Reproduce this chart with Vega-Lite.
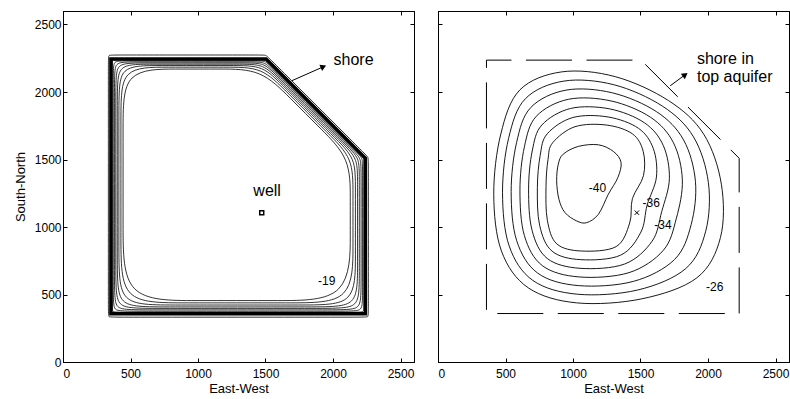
{
  "$schema": "https://vega.github.io/schema/vega-lite/v6.json",
  "padding": {"left": 13, "top": 10, "right": 0, "bottom": 0},
  "spacing": 22,
  "config": {
    "view": {"stroke": "black", "strokeWidth": 1},
    "axis": {"domainColor": "black", "tickColor": "black", "tickSize": -4, "labelPadding": 6, "labelFont": "Liberation Sans", "labelFontSize": 12, "labelColor": "black", "titleFont": "Liberation Sans", "titleFontSize": 13, "titleFontWeight": "normal", "titleColor": "black", "grid": false, "format": "d"},
    "axisX": {"labelPadding": 10, "titlePadding": 3},
    "axisY": {"titlePadding": 7},
    "text": {"font": "Liberation Sans", "color": "black"}
  },
  "datasets": {
    "leftContours": [
      {"c":0,"i":1,"x":336,"y":2244},{"c":0,"i":2,"x":336,"y":2274},{"c":0,"i":3,"x":366,"y":2274},{"c":0,"i":4,"x":1474,"y":2274},{"c":0,"i":5,"x":1504,"y":2274},{"c":0,"i":6,"x":1525,"y":2253},{"c":0,"i":7,"x":2241,"y":1537},{"c":0,"i":8,"x":2262,"y":1516},{"c":0,"i":9,"x":2262,"y":1486},{"c":0,"i":10,"x":2262,"y":362},{"c":0,"i":11,"x":2262,"y":332},{"c":0,"i":12,"x":2232,"y":332},{"c":0,"i":13,"x":366,"y":332},{"c":0,"i":14,"x":336,"y":332},{"c":0,"i":15,"x":336,"y":362},
      {"c":1,"i":1,"x":445,"y":1770},{"c":1,"i":2,"x":445,"y":2170},{"c":1,"i":3,"x":845,"y":2170},{"c":1,"i":4,"x":1167,"y":2170},{"c":1,"i":5,"x":1467,"y":2170},{"c":1,"i":6,"x":1679,"y":1958},{"c":1,"i":7,"x":1916,"y":1721},{"c":1,"i":8,"x":2128,"y":1509},{"c":1,"i":9,"x":2128,"y":1209},{"c":1,"i":10,"x":2128,"y":975},{"c":1,"i":11,"x":2128,"y":455},{"c":1,"i":12,"x":1608,"y":455},{"c":1,"i":13,"x":965,"y":455},{"c":1,"i":14,"x":445,"y":455},{"c":1,"i":15,"x":445,"y":975},
      {"c":2,"i":1,"x":429,"y":1856},{"c":2,"i":2,"x":429,"y":2184},{"c":2,"i":3,"x":757,"y":2184},{"c":2,"i":4,"x":1228,"y":2184},{"c":2,"i":5,"x":1474,"y":2184},{"c":2,"i":6,"x":1648,"y":2010},{"c":2,"i":7,"x":1974,"y":1683},{"c":2,"i":8,"x":2148,"y":1509},{"c":2,"i":9,"x":2148,"y":1263},{"c":2,"i":10,"x":2148,"y":864},{"c":2,"i":11,"x":2148,"y":438},{"c":2,"i":12,"x":1722,"y":438},{"c":2,"i":13,"x":855,"y":438},{"c":2,"i":14,"x":429,"y":438},{"c":2,"i":15,"x":429,"y":864},
      {"c":3,"i":1,"x":414,"y":1932},{"c":3,"i":2,"x":414,"y":2196},{"c":3,"i":3,"x":678,"y":2196},{"c":3,"i":4,"x":1282,"y":2196},{"c":3,"i":5,"x":1480,"y":2196},{"c":3,"i":6,"x":1620,"y":2056},{"c":3,"i":7,"x":2026,"y":1649},{"c":3,"i":8,"x":2166,"y":1509},{"c":3,"i":9,"x":2166,"y":1311},{"c":3,"i":10,"x":2166,"y":765},{"c":3,"i":11,"x":2166,"y":422},{"c":3,"i":12,"x":1823,"y":422},{"c":3,"i":13,"x":757,"y":422},{"c":3,"i":14,"x":414,"y":422},{"c":3,"i":15,"x":414,"y":765},
      {"c":4,"i":1,"x":402,"y":1998},{"c":4,"i":2,"x":402,"y":2206},{"c":4,"i":3,"x":610,"y":2206},{"c":4,"i":4,"x":1329,"y":2206},{"c":4,"i":5,"x":1485,"y":2206},{"c":4,"i":6,"x":1595,"y":2096},{"c":4,"i":7,"x":2072,"y":1619},{"c":4,"i":8,"x":2182,"y":1509},{"c":4,"i":9,"x":2182,"y":1353},{"c":4,"i":10,"x":2182,"y":678},{"c":4,"i":11,"x":2182,"y":408},{"c":4,"i":12,"x":1912,"y":408},{"c":4,"i":13,"x":672,"y":408},{"c":4,"i":14,"x":402,"y":408},{"c":4,"i":15,"x":402,"y":678},
      {"c":5,"i":1,"x":391,"y":2055},{"c":5,"i":2,"x":391,"y":2215},{"c":5,"i":3,"x":551,"y":2215},{"c":5,"i":4,"x":1370,"y":2215},{"c":5,"i":5,"x":1490,"y":2215},{"c":5,"i":6,"x":1575,"y":2130},{"c":5,"i":7,"x":2110,"y":1595},{"c":5,"i":8,"x":2195,"y":1510},{"c":5,"i":9,"x":2195,"y":1390},{"c":5,"i":10,"x":2195,"y":605},{"c":5,"i":11,"x":2195,"y":397},{"c":5,"i":12,"x":1987,"y":397},{"c":5,"i":13,"x":599,"y":397},{"c":5,"i":14,"x":391,"y":397},{"c":5,"i":15,"x":391,"y":605},
      {"c":6,"i":1,"x":381,"y":2107},{"c":6,"i":2,"x":381,"y":2223},{"c":6,"i":3,"x":497,"y":2223},{"c":6,"i":4,"x":1407,"y":2223},{"c":6,"i":5,"x":1494,"y":2223},{"c":6,"i":6,"x":1556,"y":2161},{"c":6,"i":7,"x":2146,"y":1571},{"c":6,"i":8,"x":2208,"y":1509},{"c":6,"i":9,"x":2208,"y":1422},{"c":6,"i":10,"x":2208,"y":537},{"c":6,"i":11,"x":2208,"y":386},{"c":6,"i":12,"x":2057,"y":386},{"c":6,"i":13,"x":532,"y":386},{"c":6,"i":14,"x":381,"y":386},{"c":6,"i":15,"x":381,"y":537},
      {"c":7,"i":1,"x":372,"y":2155},{"c":7,"i":2,"x":372,"y":2231},{"c":7,"i":3,"x":448,"y":2231},{"c":7,"i":4,"x":1441,"y":2231},{"c":7,"i":5,"x":1498,"y":2231},{"c":7,"i":6,"x":1538,"y":2191},{"c":7,"i":7,"x":2179,"y":1550},{"c":7,"i":8,"x":2219,"y":1510},{"c":7,"i":9,"x":2219,"y":1453},{"c":7,"i":10,"x":2219,"y":475},{"c":7,"i":11,"x":2219,"y":376},{"c":7,"i":12,"x":2120,"y":376},{"c":7,"i":13,"x":471,"y":376},{"c":7,"i":14,"x":372,"y":376},{"c":7,"i":15,"x":372,"y":475},
      {"c":8,"i":1,"x":364,"y":2203},{"c":8,"i":2,"x":364,"y":2238},{"c":8,"i":3,"x":399,"y":2238},{"c":8,"i":4,"x":1475,"y":2238},{"c":8,"i":5,"x":1501,"y":2238},{"c":8,"i":6,"x":1519,"y":2220},{"c":8,"i":7,"x":2211,"y":1528},{"c":8,"i":8,"x":2229,"y":1510},{"c":8,"i":9,"x":2229,"y":1484},{"c":8,"i":10,"x":2229,"y":412},{"c":8,"i":11,"x":2229,"y":368},{"c":8,"i":12,"x":2185,"y":368},{"c":8,"i":13,"x":408,"y":368},{"c":8,"i":14,"x":364,"y":368},{"c":8,"i":15,"x":364,"y":412}
    ],
    "leftShore": [
      {"i":1,"x":355,"y":2245},{"i":2,"x":1505,"y":2245},{"i":3,"x":2240,"y":1510},{"i":4,"x":2240,"y":358},{"i":5,"x":355,"y":358}
    ],
    "rightContours": [
      {"c":"-26","i":1,"x":606,"y":2015},{"c":"-26","i":2,"x":916,"y":2149},{"c":"-26","i":3,"x":1312,"y":2114},{"c":"-26","i":4,"x":1708,"y":1936},{"c":"-26","i":5,"x":1968,"y":1688},{"c":"-26","i":6,"x":2099,"y":1317},{"c":"-26","i":7,"x":2092,"y":921},{"c":"-26","i":8,"x":1918,"y":624},{"c":"-26","i":9,"x":1510,"y":468},{"c":"-26","i":10,"x":1027,"y":438},{"c":"-26","i":11,"x":668,"y":550},{"c":"-26","i":12,"x":470,"y":822},{"c":"-26","i":13,"x":413,"y":1243},{"c":"-26","i":14,"x":465,"y":1688},
      {"c":"-28","i":1,"x":647,"y":1950},{"c":"-28","i":2,"x":933,"y":2081},{"c":"-28","i":3,"x":1302,"y":2054},{"c":"-28","i":4,"x":1663,"y":1895},{"c":"-28","i":5,"x":1893,"y":1667},{"c":"-28","i":6,"x":2003,"y":1328},{"c":"-28","i":7,"x":1983,"y":969},{"c":"-28","i":8,"x":1835,"y":692},{"c":"-28","i":9,"x":1478,"y":533},{"c":"-28","i":10,"x":1033,"y":502},{"c":"-28","i":11,"x":703,"y":604},{"c":"-28","i":12,"x":527,"y":860},{"c":"-28","i":13,"x":478,"y":1253},{"c":"-28","i":14,"x":523,"y":1657},
      {"c":"-30","i":1,"x":687,"y":1885},{"c":"-30","i":2,"x":949,"y":2014},{"c":"-30","i":3,"x":1291,"y":1994},{"c":"-30","i":4,"x":1619,"y":1854},{"c":"-30","i":5,"x":1819,"y":1645},{"c":"-30","i":6,"x":1907,"y":1338},{"c":"-30","i":7,"x":1875,"y":1017},{"c":"-30","i":8,"x":1752,"y":759},{"c":"-30","i":9,"x":1447,"y":597},{"c":"-30","i":10,"x":1039,"y":566},{"c":"-30","i":11,"x":739,"y":658},{"c":"-30","i":12,"x":583,"y":898},{"c":"-30","i":13,"x":542,"y":1262},{"c":"-30","i":14,"x":582,"y":1625},
      {"c":"-32","i":1,"x":728,"y":1820},{"c":"-32","i":2,"x":966,"y":1946},{"c":"-32","i":3,"x":1281,"y":1934},{"c":"-32","i":4,"x":1574,"y":1813},{"c":"-32","i":5,"x":1744,"y":1624},{"c":"-32","i":6,"x":1810,"y":1349},{"c":"-32","i":7,"x":1766,"y":1066},{"c":"-32","i":8,"x":1669,"y":827},{"c":"-32","i":9,"x":1415,"y":662},{"c":"-32","i":10,"x":1046,"y":630},{"c":"-32","i":11,"x":774,"y":713},{"c":"-32","i":12,"x":640,"y":936},{"c":"-32","i":13,"x":607,"y":1272},{"c":"-32","i":14,"x":640,"y":1594},
      {"c":"-34","i":1,"x":769,"y":1755},{"c":"-34","i":2,"x":982,"y":1878},{"c":"-34","i":3,"x":1271,"y":1875},{"c":"-34","i":4,"x":1529,"y":1772},{"c":"-34","i":5,"x":1669,"y":1603},{"c":"-34","i":6,"x":1714,"y":1359},{"c":"-34","i":7,"x":1657,"y":1114},{"c":"-34","i":8,"x":1586,"y":895},{"c":"-34","i":9,"x":1383,"y":726},{"c":"-34","i":10,"x":1052,"y":694},{"c":"-34","i":11,"x":809,"y":767},{"c":"-34","i":12,"x":697,"y":974},{"c":"-34","i":13,"x":671,"y":1281},{"c":"-34","i":14,"x":698,"y":1563},
      {"c":"-36","i":1,"x":809,"y":1690},{"c":"-36","i":2,"x":999,"y":1811},{"c":"-36","i":3,"x":1260,"y":1815},{"c":"-36","i":4,"x":1485,"y":1731},{"c":"-36","i":5,"x":1595,"y":1581},{"c":"-36","i":6,"x":1618,"y":1370},{"c":"-36","i":7,"x":1549,"y":1162},{"c":"-36","i":8,"x":1503,"y":962},{"c":"-36","i":9,"x":1352,"y":791},{"c":"-36","i":10,"x":1058,"y":758},{"c":"-36","i":11,"x":845,"y":821},{"c":"-36","i":12,"x":753,"y":1012},{"c":"-36","i":13,"x":736,"y":1291},{"c":"-36","i":14,"x":757,"y":1531},
      {"c":"-38","i":1,"x":850,"y":1625},{"c":"-38","i":2,"x":1015,"y":1743},{"c":"-38","i":3,"x":1250,"y":1755},{"c":"-38","i":4,"x":1440,"y":1690},{"c":"-38","i":5,"x":1520,"y":1560},{"c":"-38","i":6,"x":1522,"y":1380},{"c":"-38","i":7,"x":1440,"y":1210},{"c":"-38","i":8,"x":1420,"y":1030},{"c":"-38","i":9,"x":1320,"y":855},{"c":"-38","i":10,"x":1064,"y":822},{"c":"-38","i":11,"x":880,"y":875},{"c":"-38","i":12,"x":810,"y":1050},{"c":"-38","i":13,"x":800,"y":1300},{"c":"-38","i":14,"x":815,"y":1500},
      {"c":"-40","i":1,"x":928,"y":1540},{"c":"-40","i":2,"x":1040,"y":1597},{"c":"-40","i":3,"x":1188,"y":1609},{"c":"-40","i":4,"x":1300,"y":1559},{"c":"-40","i":5,"x":1356,"y":1478},{"c":"-40","i":6,"x":1332,"y":1366},{"c":"-40","i":7,"x":1262,"y":1243},{"c":"-40","i":8,"x":1188,"y":1094},{"c":"-40","i":9,"x":1101,"y":1032},{"c":"-40","i":10,"x":1027,"y":1045},{"c":"-40","i":11,"x":941,"y":1106},{"c":"-40","i":12,"x":896,"y":1205},{"c":"-40","i":13,"x":879,"y":1342},{"c":"-40","i":14,"x":891,"y":1465}
    ],
    "rightShore": [
      {"i":1,"x":359,"y":2236},{"i":2,"x":1504,"y":2236},{"i":3,"x":2231,"y":1509},{"i":4,"x":2231,"y":359},{"i":5,"x":359,"y":359}
    ]
  },
  "hconcat": [
    {
      "width": 351, "height": 351,
      "resolve": {"axis": {"x": "independent", "y": "independent"}},
      "layer": [
        {
          "data": {"name": "leftContours"},
          "mark": {"type": "line", "interpolate": "basis-closed", "color": "black", "strokeWidth": 0.8},
          "encoding": {
            "x": {"field": "x", "type": "quantitative", "scale": {"domain": [0, 2600], "nice": false}, "axis": {"orient": "bottom", "values": [0, 500, 1000, 1500, 2000, 2500], "title": "East-West"}},
            "y": {"field": "y", "type": "quantitative", "scale": {"domain": [0, 2600], "nice": false}, "axis": {"orient": "left", "values": [0, 500, 1000, 1500, 2000, 2500], "title": "South-North"}},
            "detail": {"field": "c", "type": "nominal"},
            "order": {"field": "i", "type": "quantitative"}
          }
        },
        {
          "data": {"name": "leftShore"},
          "mark": {"type": "line", "interpolate": "linear-closed", "color": "black", "strokeWidth": 3.5},
          "encoding": {
            "x": {"field": "x", "type": "quantitative", "scale": {"domain": [0, 2600], "nice": false}, "axis": {"orient": "top", "values": [0, 500, 1000, 1500, 2000, 2500], "labels": false, "title": null}},
            "y": {"field": "y", "type": "quantitative", "scale": {"domain": [0, 2600], "nice": false}, "axis": {"orient": "right", "values": [0, 500, 1000, 1500, 2000, 2500], "labels": false, "title": null}},
            "order": {"field": "i", "type": "quantitative"}
          }
        },
        {
          "data": {"values": [{"x": 1694, "y": 2083, "x2": 1929, "y2": 2187}]},
          "mark": {"type": "rule", "color": "black", "strokeWidth": 1},
          "encoding": {
            "x": {"field": "x", "type": "quantitative", "axis": null},
            "y": {"field": "y", "type": "quantitative", "axis": null},
            "x2": {"field": "x2"},
            "y2": {"field": "y2"}
          }
        },
        {
          "data": {"values": [{"x": 1929, "y": 2187}]},
          "mark": {"type": "point", "shape": "triangle-up", "filled": true, "color": "black", "size": 45, "angle": 66, "opacity": 1},
          "encoding": {
            "x": {"field": "x", "type": "quantitative", "axis": null},
            "y": {"field": "y", "type": "quantitative", "axis": null}
          }
        },
        {
          "data": {"values": [{"x": 1472, "y": 1106}]},
          "mark": {"type": "point", "shape": "square", "filled": false, "color": "black", "size": 16, "strokeWidth": 1.5, "opacity": 1},
          "encoding": {
            "x": {"field": "x", "type": "quantitative", "axis": null},
            "y": {"field": "y", "type": "quantitative", "axis": null}
          }
        },
        {
          "data": {"values": [{"x": 1410, "y": 1267, "t": "well"}, {"x": 2004, "y": 2237, "t": "shore"}]},
          "mark": {"type": "text", "fontSize": 16, "align": "left", "baseline": "middle"},
          "encoding": {
            "x": {"field": "x", "type": "quantitative", "axis": null},
            "y": {"field": "y", "type": "quantitative", "axis": null},
            "text": {"field": "t"}
          }
        },
        {
          "data": {"values": [{"x": 1954, "y": 599, "t": "-19"}]},
          "mark": {"type": "text", "fontSize": 12, "align": "center", "baseline": "middle"},
          "encoding": {
            "x": {"field": "x", "type": "quantitative", "axis": null},
            "y": {"field": "y", "type": "quantitative", "axis": null},
            "text": {"field": "t"}
          }
        }
      ]
    },
    {
      "width": 351, "height": 351,
      "resolve": {"axis": {"x": "independent", "y": "independent"}},
      "layer": [
        {
          "data": {"name": "rightContours"},
          "mark": {"type": "line", "interpolate": "cardinal-closed", "color": "black", "strokeWidth": 0.9},
          "encoding": {
            "x": {"field": "x", "type": "quantitative", "scale": {"domain": [0, 2600], "nice": false}, "axis": {"orient": "bottom", "values": [0, 500, 1000, 1500, 2000, 2500], "title": "East-West"}},
            "y": {"field": "y", "type": "quantitative", "scale": {"domain": [0, 2600], "nice": false}, "axis": {"orient": "left", "values": [0, 500, 1000, 1500, 2000, 2500], "labels": false, "title": null}},
            "detail": {"field": "c", "type": "nominal"},
            "order": {"field": "i", "type": "quantitative"}
          }
        },
        {
          "data": {"name": "rightShore"},
          "mark": {"type": "line", "interpolate": "linear-closed", "color": "black", "strokeWidth": 1, "strokeDash": [46, 14.5], "strokeDashOffset": 21},
          "encoding": {
            "x": {"field": "x", "type": "quantitative", "scale": {"domain": [0, 2600], "nice": false}, "axis": {"orient": "top", "values": [0, 500, 1000, 1500, 2000, 2500], "labels": false, "title": null}},
            "y": {"field": "y", "type": "quantitative", "scale": {"domain": [0, 2600], "nice": false}, "axis": {"orient": "right", "values": [0, 500, 1000, 1500, 2000, 2500], "labels": false, "title": null}},
            "order": {"field": "i", "type": "quantitative"}
          }
        },
        {
          "data": {"values": [{"x": 1720, "y": 2046, "x2": 1831, "y2": 2128}]},
          "mark": {"type": "rule", "color": "black", "strokeWidth": 1},
          "encoding": {
            "x": {"field": "x", "type": "quantitative", "axis": null},
            "y": {"field": "y", "type": "quantitative", "axis": null},
            "x2": {"field": "x2"},
            "y2": {"field": "y2"}
          }
        },
        {
          "data": {"values": [{"x": 1831, "y": 2128}]},
          "mark": {"type": "point", "shape": "triangle-up", "filled": true, "color": "black", "size": 45, "angle": 54, "opacity": 1},
          "encoding": {
            "x": {"field": "x", "type": "quantitative", "axis": null},
            "y": {"field": "y", "type": "quantitative", "axis": null}
          }
        },
        {
          "data": {"values": [{"x": 1473, "y": 1106}]},
          "mark": {"type": "point", "shape": "M-1,-1L1,1M-1,1L1,-1", "filled": false, "color": "black", "size": 20, "strokeWidth": 1, "opacity": 1},
          "encoding": {
            "x": {"field": "x", "type": "quantitative", "axis": null},
            "y": {"field": "y", "type": "quantitative", "axis": null}
          }
        },
        {
          "data": {"values": [{"x": 1918, "y": 2244, "t": "shore in"}, {"x": 1918, "y": 2113, "t": "top aquifer"}]},
          "mark": {"type": "text", "fontSize": 16, "align": "left", "baseline": "middle"},
          "encoding": {
            "x": {"field": "x", "type": "quantitative", "axis": null},
            "y": {"field": "y", "type": "quantitative", "axis": null},
            "text": {"field": "t"}
          }
        },
        {
          "data": {"values": [{"x": 1181, "y": 1290, "t": "-40"}, {"x": 1579, "y": 1181, "t": "-36"}, {"x": 1666, "y": 1015, "t": "-34"}, {"x": 2050, "y": 557, "t": "-26"}]},
          "mark": {"type": "text", "fontSize": 12, "align": "center", "baseline": "middle"},
          "encoding": {
            "x": {"field": "x", "type": "quantitative", "axis": null},
            "y": {"field": "y", "type": "quantitative", "axis": null},
            "text": {"field": "t"}
          }
        }
      ]
    }
  ]
}
